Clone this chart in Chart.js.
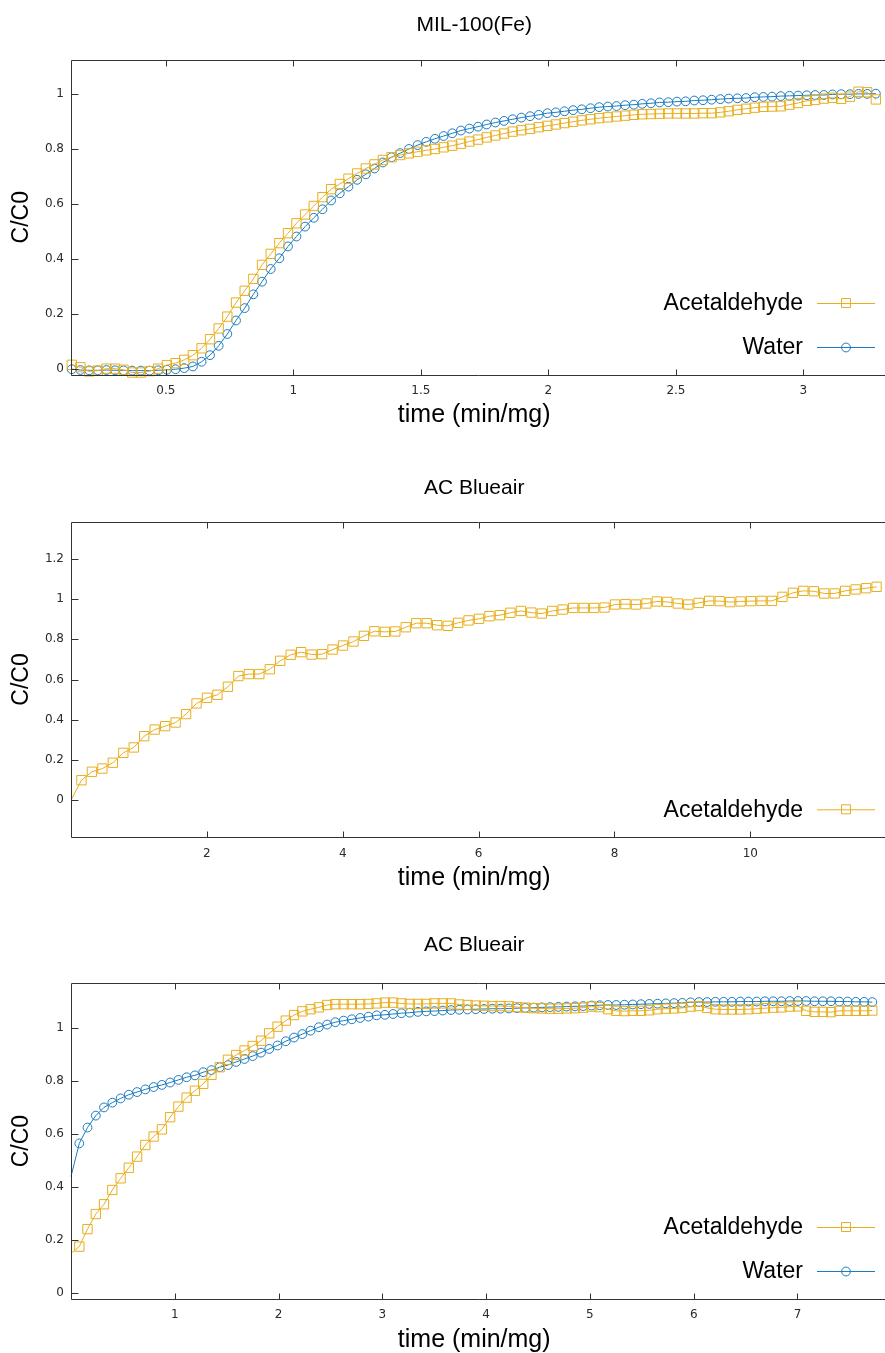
<!DOCTYPE html>
<html>
<head>
<meta charset="utf-8">
<script src="https://cdn.jsdelivr.net/npm/chart.js@4.4.1/dist/chart.umd.min.js"></script>
<style>
  html, body { margin: 0; padding: 0; background: #fff; }
  body { width: 885px; height: 1353px; position: relative; overflow: hidden; }
  canvas { position: absolute; left: 0; }
</style>
</head>
<body>
<canvas id="mil" width="885" height="451" style="top:0px"></canvas>
<canvas id="ac1" width="885" height="451" style="top:451px"></canvas>
<canvas id="ac2" width="885" height="451" style="top:902px"></canvas>
<script>
// --- MIL-100(Fe): acetaldehyde + water breakthrough
const milTime = [0.131, 0.165, 0.199, 0.233, 0.267, 0.301, 0.334, 0.368, 0.402, 0.436,
  0.470, 0.504, 0.538, 0.572, 0.606, 0.640, 0.673, 0.707, 0.741, 0.775,
  0.809, 0.843, 0.877, 0.911, 0.945, 0.979, 1.012, 1.046, 1.080, 1.114,
  1.148, 1.182, 1.216, 1.250, 1.284, 1.318, 1.351, 1.385, 1.419, 1.453,
  1.487, 1.521, 1.555, 1.589, 1.623, 1.657, 1.690, 1.724, 1.758, 1.792,
  1.826, 1.860, 1.894, 1.928, 1.962, 1.996, 2.029, 2.063, 2.097, 2.131,
  2.165, 2.199, 2.233, 2.267, 2.301, 2.335, 2.368, 2.402, 2.436, 2.470,
  2.504, 2.538, 2.572, 2.606, 2.640, 2.674, 2.707, 2.741, 2.775, 2.809,
  2.843, 2.877, 2.911, 2.945, 2.979, 3.013, 3.046, 3.080, 3.114, 3.148,
  3.182, 3.216, 3.250, 3.284];
const milAcet = [0.016, 0.007, -0.008, -0.005, 0.002, 0.002, -0.002, -0.012, -0.012, -0.007,
  0.002, 0.015, 0.022, 0.034, 0.051, 0.076, 0.109, 0.148, 0.191, 0.242,
  0.285, 0.328, 0.379, 0.419, 0.458, 0.494, 0.530, 0.562, 0.593, 0.625,
  0.654, 0.673, 0.692, 0.711, 0.729, 0.744, 0.760, 0.770, 0.778, 0.784,
  0.790, 0.795, 0.800, 0.806, 0.812, 0.819, 0.827, 0.834, 0.842, 0.849,
  0.856, 0.863, 0.868, 0.873, 0.879, 0.884, 0.889, 0.894, 0.899, 0.904,
  0.908, 0.912, 0.915, 0.918, 0.921, 0.924, 0.926, 0.927, 0.928, 0.929,
  0.929, 0.929, 0.929, 0.930, 0.930, 0.933, 0.937, 0.942, 0.946, 0.950,
  0.953, 0.954, 0.955, 0.961, 0.967, 0.975, 0.978, 0.983, 0.986, 0.982,
  0.990, 1.008, 1.006, 0.980];
const milWater = [0.000, -0.003, -0.004, -0.004, -0.003, -0.004, -0.004, -0.005, -0.005, -0.005,
  -0.004, -0.002, 0.000, 0.004, 0.010, 0.027, 0.051, 0.085, 0.128, 0.177,
  0.222, 0.272, 0.318, 0.364, 0.403, 0.446, 0.482, 0.518, 0.550, 0.581,
  0.613, 0.639, 0.663, 0.688, 0.708, 0.729, 0.751, 0.770, 0.785, 0.800,
  0.814, 0.826, 0.837, 0.847, 0.857, 0.867, 0.874, 0.881, 0.889, 0.896,
  0.902, 0.908, 0.914, 0.919, 0.924, 0.930, 0.933, 0.937, 0.941, 0.944,
  0.948, 0.952, 0.954, 0.956, 0.959, 0.961, 0.964, 0.966, 0.969, 0.970,
  0.972, 0.973, 0.976, 0.977, 0.979, 0.981, 0.983, 0.984, 0.985, 0.988,
  0.989, 0.990, 0.992, 0.993, 0.994, 0.995, 0.996, 0.996, 0.998, 0.999,
  0.999, 1.000, 1.000, 1.001];
const milXTicks = [0.5, 1, 1.5, 2, 2.5, 3];
const milYTicks = [0, 0.2, 0.4, 0.6, 0.8, 1];

// --- AC Blueair, acetaldehyde only
const ac1Time = [0, 0.154, 0.308, 0.462, 0.616, 0.770, 0.924, 1.078, 1.232, 1.386,
  1.540, 1.694, 1.848, 2.002, 2.156, 2.310, 2.464, 2.618, 2.772, 2.926,
  3.080, 3.234, 3.388, 3.542, 3.696, 3.850, 4.004, 4.158, 4.312, 4.466,
  4.620, 4.774, 4.928, 5.082, 5.236, 5.390, 5.544, 5.698, 5.852, 6.006,
  6.160, 6.314, 6.468, 6.622, 6.776, 6.930, 7.084, 7.238, 7.392, 7.546,
  7.700, 7.854, 8.008, 8.162, 8.316, 8.470, 8.624, 8.778, 8.932, 9.086,
  9.240, 9.394, 9.548, 9.702, 9.856, 10.010, 10.164, 10.318, 10.472, 10.626,
  10.780, 10.934, 11.088, 11.242, 11.396, 11.550, 11.704, 11.858];
const ac1Acet = [0.000, 0.099, 0.141, 0.157, 0.186, 0.235, 0.262, 0.318, 0.351, 0.368,
  0.386, 0.428, 0.481, 0.509, 0.524, 0.564, 0.617, 0.627, 0.627, 0.651,
  0.693, 0.723, 0.736, 0.724, 0.726, 0.749, 0.769, 0.789, 0.817, 0.840,
  0.837, 0.839, 0.860, 0.880, 0.880, 0.870, 0.867, 0.882, 0.894, 0.902,
  0.915, 0.920, 0.932, 0.941, 0.933, 0.928, 0.941, 0.948, 0.956, 0.956,
  0.956, 0.958, 0.973, 0.975, 0.973, 0.978, 0.988, 0.986, 0.978, 0.973,
  0.981, 0.991, 0.990, 0.985, 0.988, 0.990, 0.991, 0.991, 1.011, 1.031,
  1.041, 1.039, 1.028, 1.028, 1.041, 1.048, 1.054, 1.061];
const ac1XTicks = [2, 4, 6, 8, 10];
const ac1YTicks = [0, 0.2, 0.4, 0.6, 0.8, 1, 1.2];

// --- AC Blueair, acetaldehyde + water
const ac2Time = [0, 0.080, 0.159, 0.239, 0.318, 0.398, 0.478, 0.557, 0.637, 0.716,
  0.796, 0.876, 0.955, 1.035, 1.114, 1.194, 1.274, 1.353, 1.433, 1.512,
  1.592, 1.672, 1.751, 1.831, 1.910, 1.990, 2.070, 2.149, 2.229, 2.308,
  2.388, 2.468, 2.547, 2.627, 2.706, 2.786, 2.866, 2.945, 3.025, 3.104,
  3.184, 3.264, 3.343, 3.423, 3.502, 3.582, 3.662, 3.741, 3.821, 3.900,
  3.980, 4.060, 4.139, 4.219, 4.298, 4.378, 4.458, 4.537, 4.617, 4.696,
  4.776, 4.856, 4.935, 5.015, 5.094, 5.174, 5.254, 5.333, 5.413, 5.492,
  5.572, 5.652, 5.731, 5.811, 5.890, 5.970, 6.050, 6.129, 6.209, 6.288,
  6.368, 6.448, 6.527, 6.607, 6.686, 6.766, 6.846, 6.925, 7.005, 7.084,
  7.164, 7.244, 7.323, 7.403, 7.482, 7.562, 7.642, 7.721];
const ac2Acet = [0.150, 0.175, 0.241, 0.298, 0.335, 0.389, 0.433, 0.473, 0.515, 0.559,
  0.591, 0.618, 0.664, 0.704, 0.738, 0.764, 0.790, 0.824, 0.853, 0.881,
  0.899, 0.916, 0.933, 0.953, 0.981, 1.006, 1.029, 1.050, 1.064, 1.072,
  1.079, 1.088, 1.091, 1.091, 1.091, 1.091, 1.092, 1.094, 1.097, 1.097,
  1.094, 1.092, 1.092, 1.092, 1.094, 1.094, 1.094, 1.090, 1.088, 1.086,
  1.085, 1.084, 1.084, 1.083, 1.080, 1.078, 1.076, 1.075, 1.074, 1.074,
  1.075, 1.076, 1.078, 1.082, 1.080, 1.072, 1.066, 1.065, 1.066, 1.066,
  1.068, 1.072, 1.074, 1.075, 1.077, 1.082, 1.084, 1.077, 1.072, 1.071,
  1.071, 1.071, 1.072, 1.074, 1.076, 1.078, 1.079, 1.082, 1.083, 1.066,
  1.062, 1.062, 1.061, 1.066, 1.066, 1.066, 1.066, 1.067];
const ac2Water = [0.440, 0.565, 0.625, 0.670, 0.701, 0.719, 0.735, 0.749, 0.759, 0.769,
  0.778, 0.786, 0.795, 0.805, 0.815, 0.822, 0.834, 0.842, 0.853, 0.861,
  0.873, 0.884, 0.895, 0.908, 0.922, 0.935, 0.951, 0.965, 0.978, 0.991,
  1.004, 1.014, 1.023, 1.029, 1.034, 1.039, 1.044, 1.049, 1.051, 1.054,
  1.057, 1.059, 1.062, 1.064, 1.065, 1.067, 1.069, 1.070, 1.071, 1.072,
  1.073, 1.074, 1.074, 1.075, 1.076, 1.077, 1.078, 1.079, 1.080, 1.081,
  1.082, 1.083, 1.084, 1.086, 1.087, 1.088, 1.088, 1.089, 1.090, 1.091,
  1.092, 1.093, 1.094, 1.095, 1.096, 1.098, 1.099, 1.099, 1.100, 1.100,
  1.100, 1.101, 1.101, 1.101, 1.102, 1.102, 1.102, 1.103, 1.103, 1.103,
  1.102, 1.102, 1.102, 1.101, 1.101, 1.100, 1.100, 1.099];
const ac2XTicks = [1, 2, 3, 4, 5, 6, 7];
const ac2YTicks = [0, 0.2, 0.4, 0.6, 0.8, 1];

const GOLD = '#E8AE1E';
const BLUE = '#1C7BBF';
const FRAME = '#333333';
const TEXT_FONT = "'Liberation Sans', Arial, sans-serif";
const TICK_FONT = "'DejaVu Sans', sans-serif";

function toPoints(xs, ys) {
  return xs.map((x, i) => ({ x: x, y: ys[i] }));
}

// gnuplot-like border, inward ticks and key drawn on top of the chart
const gnuFrame = {
  id: 'gnuFrame',
  afterDraw(chart) {
    const { ctx, chartArea: a, scales: { x, y } } = chart;
    const right = chart.width;
    ctx.save();
    ctx.strokeStyle = FRAME;
    ctx.lineWidth = 1;
    ctx.beginPath();
    const L = Math.round(a.left) + 0.5, T = Math.round(a.top) + 0.5, B = Math.round(a.bottom) + 0.5;
    ctx.moveTo(right, T); ctx.lineTo(L, T); ctx.lineTo(L, B); ctx.lineTo(right, B);
    x.ticks.forEach(t => {
      const px = Math.round(x.getPixelForValue(t.value)) + 0.5;
      ctx.moveTo(px, B); ctx.lineTo(px, B - 6);
      ctx.moveTo(px, T); ctx.lineTo(px, T + 6);
    });
    y.ticks.forEach(t => {
      const py = Math.round(y.getPixelForValue(t.value)) + 0.5;
      ctx.moveTo(L, py); ctx.lineTo(L + 7, py);
    });
    ctx.stroke();

    // key, bottom right inside the plot
    const sets = chart.data.datasets;
    ctx.font = '23px ' + TEXT_FONT;
    ctx.textAlign = 'right';
    ctx.textBaseline = 'middle';
    sets.forEach((ds, i) => {
      const ky = a.bottom - 28 - (sets.length - 1 - i) * 44;
      ctx.fillStyle = '#000';
      ctx.fillText(ds.label, 803, ky + 1);
      ctx.strokeStyle = ds.borderColor;
      ctx.beginPath();
      ctx.moveTo(817, ky + 0.5); ctx.lineTo(875, ky + 0.5);
      ctx.stroke();
      ctx.beginPath();
      if (ds.pointStyle === 'rect') {
        ctx.rect(841.5, ky - 4.5, 9, 9);
      } else {
        ctx.arc(846, ky + 0.5, 4.4, 0, Math.PI * 2);
      }
      ctx.stroke();
    });
    ctx.restore();
  }
};

function series(label, xs, ys, color, style, hideFirst) {
  const r = style === 'rect' ? 6.6 : 4.4;
  return {
    label: label,
    data: toPoints(xs, ys),
    borderColor: color,
    borderWidth: 1,
    pointStyle: style,
    pointRadius: ctx => (hideFirst && ctx.dataIndex === 0) ? 0 : r,
    pointBorderColor: color,
    pointBackgroundColor: 'rgba(0,0,0,0)',
    pointBorderWidth: 1,
    tension: 0,
    clip: false
  };
}

function makeChart(id, cfg) {
  const H = 451;
  const titleLh = 25;
  new Chart(document.getElementById(id), {
    type: 'line',
    data: { datasets: cfg.datasets },
    plugins: [gnuFrame],
    options: {
      responsive: false,
      devicePixelRatio: 1,
      animation: false,
      events: [],
      layout: { padding: 0 },
      plugins: {
        legend: { display: false },
        tooltip: { enabled: false },
        title: {
          display: true,
          text: cfg.title,
          fullSize: false,
          color: '#000',
          font: { family: TEXT_FONT, size: 21, weight: 'normal', lineHeight: titleLh / 21 },
          padding: { top: cfg.titleY - titleLh / 2, bottom: cfg.top - cfg.titleY - titleLh / 2 }
        }
      },
      scales: {
        x: {
          type: 'linear',
          min: cfg.xMin,
          max: cfg.xMax,
          afterBuildTicks: s => { s.ticks = cfg.xTicks.map(v => ({ value: v })); },
          afterFit: s => { s.height = H - cfg.bottom; },
          grid: { display: false, drawTicks: false },
          border: { display: false },
          ticks: {
            color: '#2a2a2a',
            font: { family: TICK_FONT, size: 12 },
            padding: 9,
            maxRotation: 0,
            autoSkip: false,
            callback: v => String(v)
          },
          title: {
            display: true,
            text: 'time (min/mg)',
            color: '#000',
            font: { family: TEXT_FONT, size: 25, lineHeight: 1.2 },
            padding: { top: 0, bottom: H - cfg.axisTitleY - 15 }
          }
        },
        y: {
          type: 'linear',
          min: cfg.yMin,
          max: cfg.yMax,
          afterBuildTicks: s => { s.ticks = cfg.yTicks.map(v => ({ value: v })); },
          afterFit: s => { s.width = 71; },
          grid: { display: false, drawTicks: false },
          border: { display: false },
          ticks: {
            color: '#2a2a2a',
            font: { family: TICK_FONT, size: 12 },
            padding: 7,
            autoSkip: false,
            callback: v => String(v)
          },
          title: {
            display: true,
            text: 'C/C0',
            color: '#000',
            font: { family: TEXT_FONT, size: 23, lineHeight: 1.2 },
            padding: { top: 8, bottom: 0 }
          }
        }
      }
    }
  });
}

makeChart('mil', {
  title: 'MIL-100(Fe)',
  titleY: 25, top: 59.5, bottom: 375, axisTitleY: 415,
  xMin: 0.128, xMax: 3.29, yMin: -0.021, yMax: 1.125,
  xTicks: milXTicks, yTicks: milYTicks,
  datasets: [
    series('Acetaldehyde', milTime, milAcet, GOLD, 'rect', false),
    series('Water', milTime, milWater, BLUE, 'circle', false)
  ]
});

makeChart('ac1', {
  title: 'AC Blueair',
  titleY: 37, top: 70.7, bottom: 386.3, axisTitleY: 427,
  xMin: 0, xMax: 11.87, yMin: -0.185, yMax: 1.385,
  xTicks: ac1XTicks, yTicks: ac1YTicks,
  datasets: [
    series('Acetaldehyde', ac1Time, ac1Acet, GOLD, 'rect', true)
  ]
});

makeChart('ac2', {
  title: 'AC Blueair',
  titleY: 43, top: 81.3, bottom: 397, axisTitleY: 438,
  xMin: 0, xMax: 7.77, yMin: -0.023, yMax: 1.17,
  xTicks: ac2XTicks, yTicks: ac2YTicks,
  datasets: [
    series('Acetaldehyde', ac2Time, ac2Acet, GOLD, 'rect', true),
    series('Water', ac2Time, ac2Water, BLUE, 'circle', true)
  ]
});
</script>
</body>
</html>
